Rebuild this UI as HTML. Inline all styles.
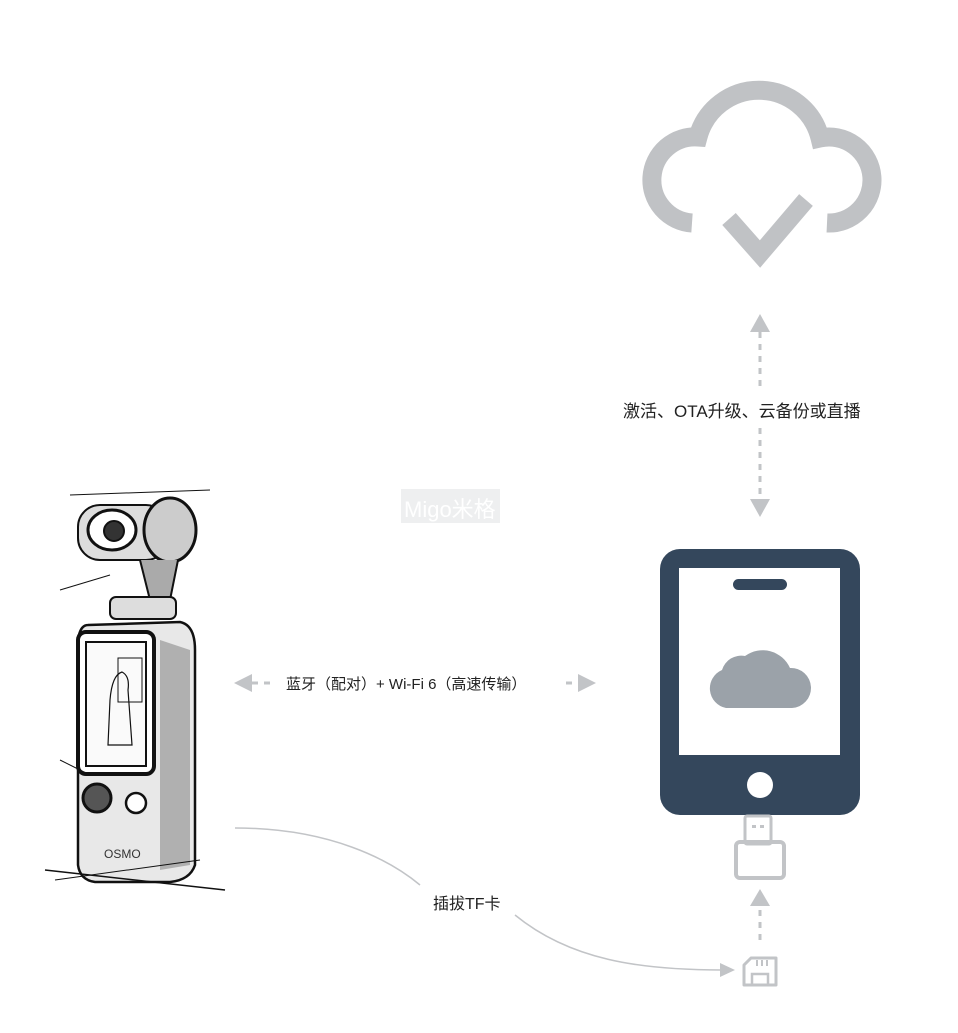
<!DOCTYPE html>
<html><head><meta charset="utf-8"><style>
html,body{margin:0;padding:0;background:#fff;}
body{width:958px;height:1033px;position:relative;overflow:hidden;font-family:"Liberation Sans","Noto Sans CJK SC",sans-serif;}
.t{position:absolute;color:#222;white-space:nowrap;}
</style></head><body>
<svg width="958" height="1033" style="position:absolute;left:0;top:0">
<!-- cloud -->
<path d="M692 223 A43 43 0 1 1 698 137 A63 63 0 0 1 820 138 A43 43 0 1 1 827 223" fill="none" stroke="#c0c2c5" stroke-width="19"/>
<path d="M729 219 L760 254 L806 200" fill="none" stroke="#c0c2c5" stroke-width="18"/>
<!-- vertical arrows -->
<polygon points="760,314 750,332 770,332" fill="#c2c4c7"/>
<line x1="760" y1="332" x2="760" y2="386" stroke="#c2c4c7" stroke-width="3" stroke-dasharray="6,6"/>
<line x1="760" y1="428" x2="760" y2="498" stroke="#c2c4c7" stroke-width="3" stroke-dasharray="6,6"/>
<polygon points="760,517 750,499 770,499" fill="#c2c4c7"/>
<!-- horizontal arrows -->
<polygon points="234,683 252,674 252,692" fill="#c2c4c7"/>
<line x1="252" y1="683" x2="272" y2="683" stroke="#c2c4c7" stroke-width="3" stroke-dasharray="6,6"/>
<line x1="566" y1="683" x2="578" y2="683" stroke="#c2c4c7" stroke-width="3" stroke-dasharray="6,6"/>
<polygon points="596,683 578,674 578,692" fill="#c2c4c7"/>
<!-- phone -->
<rect x="660" y="549" width="200" height="266" rx="20" fill="#34475c"/>
<rect x="679" y="568" width="161" height="187" fill="#fff"/>
<rect x="733" y="579" width="54" height="11" rx="5.5" fill="#34475c"/>
<path d="M726 708 A20 20 0 0 1 722 670 A20 20 0 0 1 745 656 A30 30 0 0 1 790 668 A20 20 0 0 1 792 708 Z" fill="#9ba2a9"/>
<circle cx="760" cy="785" r="13" fill="#fff"/>
<!-- usb -->
<rect x="745" y="816" width="26" height="28" rx="2" fill="none" stroke="#c2c4c7" stroke-width="3"/>
<rect x="752" y="825" width="4" height="3" fill="#c2c4c7"/><rect x="760" y="825" width="4" height="3" fill="#c2c4c7"/>
<rect x="736" y="842" width="48" height="36" rx="4" fill="none" stroke="#c2c4c7" stroke-width="4"/>
<polygon points="760,889 750,906 770,906" fill="#c2c4c7"/>
<line x1="760" y1="910" x2="760" y2="944" stroke="#c2c4c7" stroke-width="3" stroke-dasharray="6,6"/>
<!-- sd card -->
<path d="M751 958 L776 958 L776 985 L744 985 L744 965 Z" fill="none" stroke="#c2c4c7" stroke-width="3" stroke-linejoin="round"/>
<line x1="757" y1="960" x2="757" y2="966" stroke="#c2c4c7" stroke-width="2"/><line x1="762" y1="960" x2="762" y2="966" stroke="#c2c4c7" stroke-width="2"/><line x1="767" y1="960" x2="767" y2="966" stroke="#c2c4c7" stroke-width="2"/>
<rect x="752" y="974" width="16" height="11" fill="none" stroke="#c2c4c7" stroke-width="2.5"/>
<!-- curve -->
<path d="M235 828 C330 828 390 860 420 885" fill="none" stroke="#c2c4c7" stroke-width="1.5"/>
<path d="M515 915 C570 960 640 970 722 970" fill="none" stroke="#c2c4c7" stroke-width="1.5"/>
<polygon points="735,970 720,963 720,977" fill="#c2c4c7"/>
<!-- watermark -->
<rect x="401" y="489" width="99" height="34" fill="#eeeff0"/>
<text x="404" y="517" font-size="22" fill="#fff" font-family="Liberation Sans,Noto Sans CJK SC,sans-serif">Migo米格</text>
<!-- camera sketch -->
<g fill="none" stroke="#111" stroke-width="2">
<rect x="78" y="505" width="90" height="55" rx="22" fill="#ddd"/>
<ellipse cx="112" cy="530" rx="24" ry="20" stroke-width="3" fill="#fff"/>
<circle cx="114" cy="531" r="10" fill="#333"/>
<ellipse cx="170" cy="530" rx="26" ry="32" stroke-width="3" fill="#ccc"/>
<path d="M140 560 L150 600 L170 600 L178 560" fill="#aaa"/>
<rect x="110" y="597" width="66" height="22" rx="6" fill="#ddd"/>
<path d="M88 625 L180 622 Q195 625 195 650 L195 865 Q190 880 170 882 L95 882 Q80 880 78 865 L78 640 Q80 625 88 625 Z" stroke-width="2.5" fill="#e8e8e8"/>
<path d="M160 640 L190 650 L190 865 L160 870 Z" fill="#999" stroke="none" opacity="0.7"/>
<rect x="78" y="632" width="76" height="142" rx="8" stroke-width="4" fill="#fff"/>
<rect x="86" y="642" width="60" height="124" fill="#fafafa"/>
<path d="M110 700 Q112 675 122 672 Q130 676 128 690 L132 745 L108 745 Z" stroke-width="1.2"/>
<rect x="118" y="658" width="24" height="44" stroke-width="1"/>
<circle cx="97" cy="798" r="14" fill="#555" stroke-width="3"/>
<circle cx="136" cy="803" r="10" stroke-width="2.5" fill="#fff"/>
<line x1="45" y1="870" x2="225" y2="890" stroke-width="1.5"/>
<line x1="55" y1="880" x2="200" y2="860" stroke-width="1"/>
<line x1="60" y1="760" x2="90" y2="775" stroke-width="1"/>
<line x1="70" y1="495" x2="210" y2="490" stroke-width="1"/>
<line x1="60" y1="590" x2="110" y2="575" stroke-width="1"/>
</g>
<text x="104" y="858" font-size="12" fill="#333" font-family="Liberation Sans,sans-serif">OSMO</text>
</svg>
<div class="t" style="left:623px;top:397px;font-size:17px;">激活、OTA升级、云备份或直播</div>
<div class="t" style="left:286px;top:673px;font-size:15px;">蓝牙（配对）+ Wi-Fi 6（高速传输）</div>
<div class="t" style="left:433px;top:890px;font-size:16px;">插拔TF卡</div>
</body></html>
